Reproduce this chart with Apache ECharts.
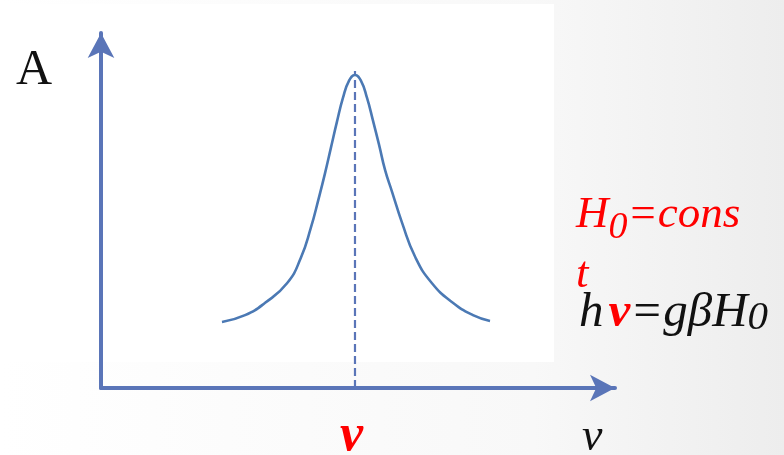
<!DOCTYPE html>
<html>
<head>
<meta charset="utf-8">
<style>
  html, body { margin: 0; padding: 0; }
  #chart { width: 784px; height: 455px; }
</style>
<script src="https://cdn.jsdelivr.net/npm/echarts@6/dist/echarts.min.js"></script>
</head>
<body>
<div id="chart"></div>
<script>
// Frequency offset from the resonance centre (arbitrary units)
const freqOffset = [-26.5, -21.9, -17.9, -13.5, -10.8, -8.8, -7.2, -6.0, -4.8, -3.6, -2.4, -1.2, 0,
                    1.2, 2.4, 3.6, 4.8, 6.0, 7.4, 9.4, 12.0, 15.3, 19.5, 23.5, 26.9];
// Absorption intensity A (arbitrary units)
const absorption = [19.3, 21.3, 24.9, 30.7, 38.0, 46.8, 55.6, 62.6, 70.2, 77.8, 84.8, 89.8, 91.5,
                    89.8, 84.8, 78.1, 71.1, 63.7, 57.3, 48.2, 38.3, 30.7, 24.9, 21.3, 19.6];
// Resonance marker: centre frequency and top of the dashed guide
const resonanceFreq = 0;
const guideTop = 92.7;

const yName = 'A';
const xName = 'ν';
const resonanceLabel = 'ν';

const axisBlue = '#5a75b8';
const curveBlue = '#4b79b4';
const serif = '"Liberation Serif", "DejaVu Serif", serif';

const chart = echarts.init(document.getElementById('chart'));

const curveData = freqOffset.map((f, i) => [f, absorption[i]]);

chart.setOption({
  animation: false,
  backgroundColor: {
    type: 'linear', x: 0, y: 0, x2: 1, y2: 0,
    colorStops: [
      { offset: 0, color: '#ffffff' },
      { offset: 0.68, color: '#f8f8f8' },
      { offset: 1, color: '#ededed' }
    ]
  },
  grid: { left: 101, top: 33, right: 169, bottom: 67, containLabel: false },
  xAxis: {
    type: 'value', min: -50.6, max: 51.8,
    axisLine: { show: true, onZero: true, symbol: ['none', 'arrow'], symbolSize: [20, 25],
                lineStyle: { color: axisBlue, width: 4 } },
    axisTick: { show: false }, axisLabel: { show: false }, splitLine: { show: false }
  },
  yAxis: {
    type: 'value', min: 0, max: 103.8,
    axisLine: { show: true, onZero: false, symbol: ['none', 'arrow'], symbolSize: [20, 25],
                lineStyle: { color: axisBlue, width: 4 } },
    axisTick: { show: false }, axisLabel: { show: false }, splitLine: { show: false }
  },
  graphic: [
    { type: 'rect', z: -10, silent: true,
      shape: { x: 0, y: 4, width: 554, height: 358 }, style: { fill: '#ffffff' } },
    { type: 'text', left: 16, top: 46,
      style: { text: yName, font: '50px ' + serif, fill: '#111111' } },
    { type: 'text', left: 582, top: 415,
      style: { text: xName, font: 'italic 46px ' + serif, fill: '#111111' } },
    { type: 'text', left: 340, top: 411,
      style: { text: resonanceLabel, font: 'italic bold 52px ' + serif, fill: '#ff0000' } },
    { type: 'text', left: 576, top: 183,
      style: {
        text: '{m|H}{s|0}{m|=cons}\n{m|t}',
        lineHeight: 60,
        rich: {
          m: { font: 'italic 45px ' + serif, fill: '#ff0000', lineHeight: 60 },
          s: { font: 'italic 38px ' + serif, fill: '#ff0000', padding: [26, 0, 0, 0], lineHeight: 60 }
        }
      } },
    { type: 'text', left: 579, top: 289,
      style: {
        text: '{m|h}{r|ν}{m|=gβH}{s|0}',
        rich: {
          m: { font: 'italic 49px ' + serif, fill: '#111111' },
          r: { font: 'italic bold 49px ' + serif, fill: '#ff0000', padding: [0, 0, 0, 5] },
          s: { font: 'italic 41px ' + serif, fill: '#111111', padding: [10, 0, 0, 0] }
        }
      } }
  ],
  series: [
    {
      type: 'line', data: curveData, smooth: 0.5, symbol: 'none',
      lineStyle: { color: curveBlue, width: 2.6 }, z: 3
    },
    {
      type: 'line', data: [[resonanceFreq, 0], [resonanceFreq, guideTop]], symbol: 'none',
      lineStyle: { color: axisBlue, width: 2.2, type: [8, 4] }, z: 2
    }
  ]
});
</script>
</body>
</html>
